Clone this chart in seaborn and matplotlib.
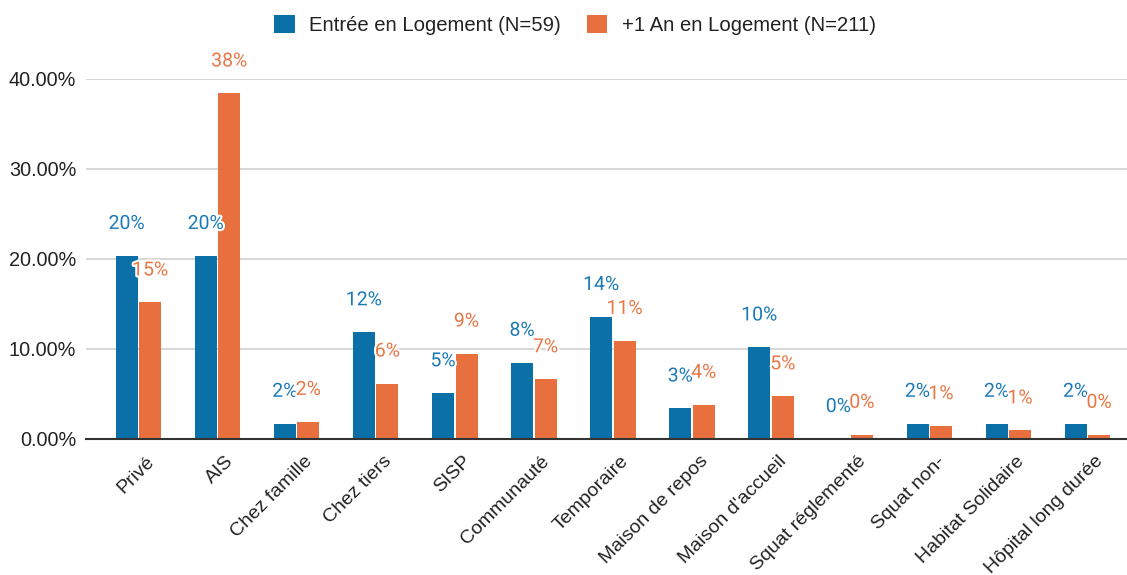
import numpy as np
import pandas as pd
import matplotlib
matplotlib.use("Agg")
import matplotlib.pyplot as plt
import matplotlib.patheffects as pe
from matplotlib.patches import Patch
from matplotlib.transforms import ScaledTranslation
import seaborn as sns

categories = ["Privé", "AIS", "Chez famille", "Chez tiers", "SISP", "Communauté",
              "Temporaire", "Maison de repos", "Maison d'accueil", "Squat réglementé",
              "Squat non-", "Habitat Solidaire", "Hôpital long durée"]
series_names = ["Entrée en Logement (N=59)", "+1 An en Logement (N=211)"]
entree = [20.34, 20.34, 1.69, 11.86, 5.08, 8.47, 13.56, 3.39, 10.17, 0.0, 1.69, 1.69, 1.69]
plus_un_an = [15.17, 38.39, 1.90, 6.16, 9.48, 6.64, 10.90, 3.79, 4.74, 0.47, 1.42, 0.95, 0.47]
y_ticks = [0, 10, 20, 30, 40]

BLUE = "#0b6fa8"
ORANGE = "#e8703f"
LABEL_COLORS = ["#1a7ab8", "#ea7644"]

df = pd.DataFrame({
    "cat": categories * 2,
    "val": entree + plus_un_an,
    "series": [series_names[0]] * len(categories) + [series_names[1]] * len(categories),
})

sns.set_theme(style="white")
plt.rcParams["font.family"] = ["Liberation Sans", "DejaVu Sans"]

fig = plt.figure(figsize=(11.27, 5.75), dpi=100)
ax = fig.add_axes([86 / 1127, 1 - 439 / 575, 1 - 86 / 1127, (439 - 79) / 575])

sns.barplot(data=df, x="cat", y="val", hue="series", order=categories,
            hue_order=series_names, palette=[BLUE, ORANGE], width=0.594, gap=0.064,
            saturation=1, legend=False, ax=ax, linewidth=0)

ax.set_xlim(-0.664, 12.5)
ax.set_ylim(0, 40)
ax.set_yticks(y_ticks)
ax.set_yticklabels([f"{t:.2f}%" for t in y_ticks], fontsize=14.3, color="#222222")
ax.yaxis.grid(True, color="#cccccc", linewidth=1.1)
ax.set_axisbelow(True)
for s in ["top", "right", "left"]:
    ax.spines[s].set_visible(False)
ax.spines["bottom"].set_color("#333333")
ax.spines["bottom"].set_linewidth(1.5)
ax.tick_params(axis="both", length=0)
ax.tick_params(axis="y", pad=7)
ax.tick_params(axis="x", pad=10)
ax.set_xlabel("")
ax.set_ylabel("")

ax.set_xticks(range(len(categories)))
ax.set_xticklabels(categories, rotation=45, ha="right", va="top",
                   rotation_mode="anchor", fontsize=14, color="#222222")
offset = ScaledTranslation(7 / 100, 0, fig.dpi_scale_trans)
for lbl in ax.get_xticklabels():
    lbl.set_transform(lbl.get_transform() + offset)

halo = [pe.withStroke(linewidth=3, foreground="white")]
for cont, col in zip(ax.containers, LABEL_COLORS):
    for bar in cont:
        h = bar.get_height()
        ax.annotate(f"{round(h)}%", (bar.get_x() + bar.get_width() / 2, h),
                    xytext=(0, 32 * 0.72), textcoords="offset points",
                    ha="center", va="center", fontsize=14, color=col,
                    family=["Roboto", "DejaVu Sans"], path_effects=halo,
                    annotation_clip=False, zorder=5)

handles = [Patch(facecolor=BLUE, edgecolor="none"), Patch(facecolor=ORANGE, edgecolor="none")]
fig.legend(handles, series_names, loc="center", bbox_to_anchor=(575 / 1127, 1 - 25 / 575),
           ncol=2, frameon=False, fontsize=14.6, handlelength=1.0, handleheight=1.0,
           handletextpad=0.7, columnspacing=1.3, labelcolor="#222222")

fig.savefig("out.png", dpi=100)
